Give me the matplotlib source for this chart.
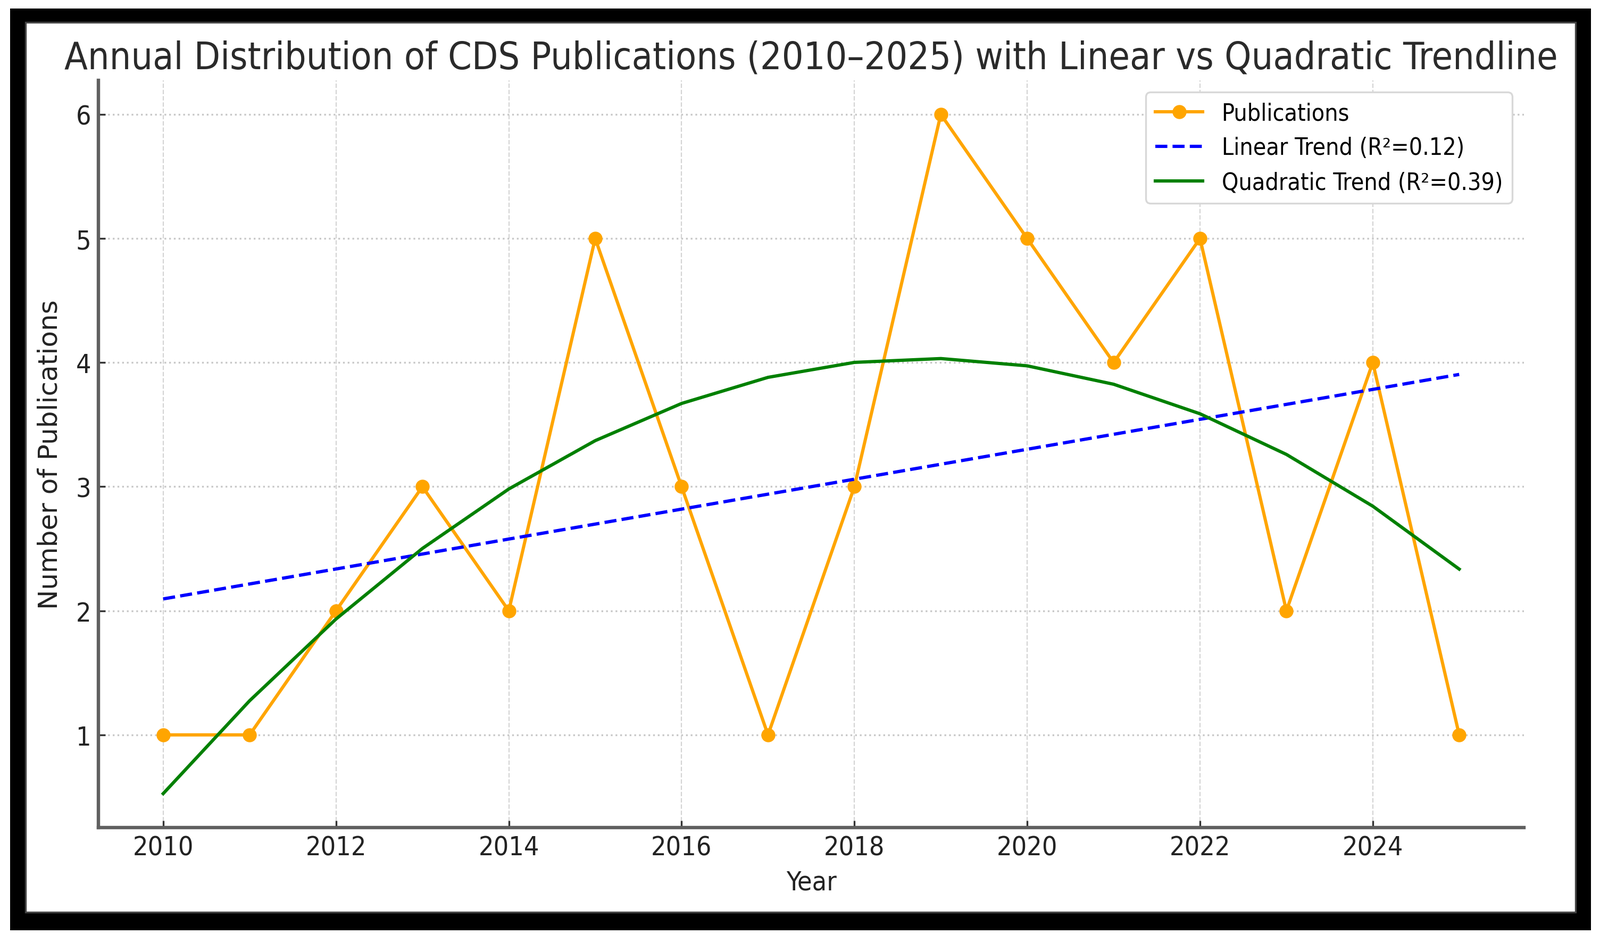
import numpy as np
import matplotlib
matplotlib.use("Agg")
import matplotlib.pyplot as plt
from matplotlib.patches import Rectangle

years = np.arange(2010, 2026)
publications = np.array([1, 1, 2, 3, 2, 5, 3, 1, 3, 6, 5, 4, 5, 2, 4, 1])
xticks = [2010, 2012, 2014, 2016, 2018, 2020, 2022, 2024]

# trend fits
lin = np.polyfit(years, publications, 1)
quad = np.polyfit(years, publications, 2)
lin_y = np.polyval(lin, years)
quad_y = np.polyval(quad, years)


def r2(y, f):
    return 1 - np.sum((y - f) ** 2) / np.sum((y - y.mean()) ** 2)


plt.rcParams['font.family'] = ['DejaVu Sans']
plt.rcParams['font.stretch'] = 'condensed'

fig = plt.figure(figsize=(15.04, 8.78), dpi=200)
fig.patch.set_facecolor('white')
# black frame of the screenshot
fig.add_artist(Rectangle((0.0063, 0.004), 0.9880, 0.9863, transform=fig.transFigure,
                         facecolor='black', edgecolor='none', zorder=-3))
fig.add_artist(Rectangle((0.0160, 0.0236), 0.9688, 0.9519, transform=fig.transFigure,
                         facecolor='white', edgecolor='#444444', linewidth=1.2, zorder=-2))

ax = fig.add_axes([0.0615, 0.1139, 0.891, 0.7995])
ax.set_facecolor('none')

ax.plot(years, publications, color='orange', marker='o', markersize=8.5, linewidth=2.2,
        label='Publications')
ax.plot(years, lin_y, color='blue', linestyle='--', linewidth=2.2,
        label=f'Linear Trend (R²={r2(publications, lin_y):.2f})')
ax.plot(years, quad_y, color='green', linewidth=2.2,
        label=f'Quadratic Trend (R²={r2(publications, quad_y):.2f})')

ax.set_xticks(xticks)
ax.grid(axis='x', linestyle='--', color='#d4d4d4', linewidth=0.8)
ax.grid(axis='y', linestyle=':', color='#c8c8c8', linewidth=1.2)
ax.set_axisbelow(True)

for s in ['top', 'right']:
    ax.spines[s].set_visible(False)
for s in ['left', 'bottom']:
    ax.spines[s].set_color('#606060')
    ax.spines[s].set_linewidth(2.3)

ax.tick_params(direction='in', length=4.7, width=1.2, color='#333333',
               labelsize=18, labelcolor='#222222', pad=5)

ax.set_title('Annual Distribution of CDS Publications (2010–2025) with Linear vs Quadratic Trendline',
             fontsize=25.7, color='#2a2a2a', pad=8)
ax.set_xlabel('Year', fontsize=18, color='#222222', labelpad=6)
ax.set_ylabel('Number of Publications', fontsize=18, color='#222222', labelpad=9,
              fontstretch='normal')

leg = ax.legend(loc='upper right', fontsize=16, framealpha=1, edgecolor='#d8d8d8')
leg.get_frame().set_linewidth(1.2)

fig.savefig('out.png', dpi=200, facecolor='white')
